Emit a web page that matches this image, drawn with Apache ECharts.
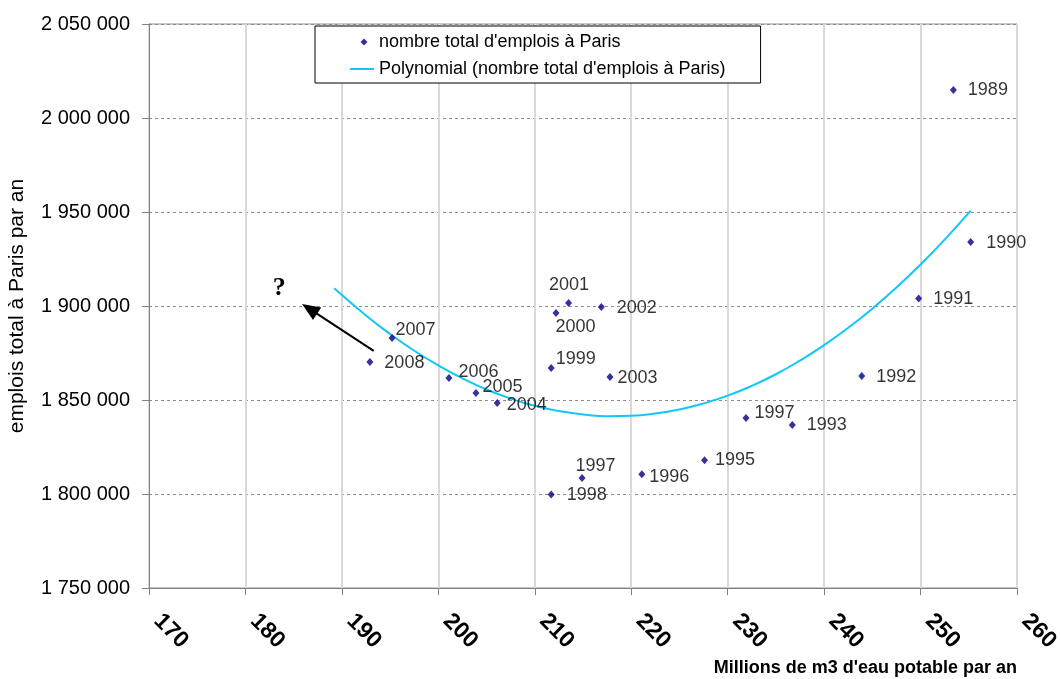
<!DOCTYPE html>
<html>
<head>
<meta charset="utf-8">
<script src="https://cdn.jsdelivr.net/npm/echarts@6/dist/echarts.min.js"></script>
<style>html,body{margin:0;padding:0;background:#fff}#c{width:1061px;height:679px}</style>
</head>
<body>
<div id="c"></div>
<script>
// ---- data ----
const years = ['1989','1990','1991','1992','1993','1997','1995','1996','1997','1998','1999','2000','2001','2002','2003','2004','2005','2006','2007','2008'];
const water = [253.4, 255.2, 249.8, 243.9, 236.7, 231.9, 227.6, 221.1, 214.9, 211.7, 211.7, 212.2, 213.5, 216.9, 217.8, 206.1, 203.9, 201.1, 195.2, 192.9];
const jobs = [2014900, 1934000, 1904000, 1862800, 1836700, 1840400, 1818000, 1810500, 1808500, 1799800, 1867000, 1896300, 1901600, 1899500, 1862200, 1848400, 1853700, 1861700, 1883000, 1870200];
// polynomial trend line
const trendX = [189.2, 192.5, 195, 197.5, 200, 202.5, 205, 207.5, 210, 212.5, 215, 217.5, 220, 222.5, 225, 227.5, 230, 232.5, 235, 237.5, 240, 242.5, 245, 247.5, 250, 252.5, 255.2];
const trendY = [1909500, 1895000, 1885100, 1876200, 1868400, 1861500, 1855600, 1850800, 1846900, 1844100, 1842300, 1841400, 1841600, 1842800, 1845000, 1848200, 1852300, 1857500, 1863700, 1871000, 1879200, 1888400, 1898600, 1909800, 1922100, 1935300, 1950700];
const xTicks = [170, 180, 190, 200, 210, 220, 230, 240, 250, 260];
const yTicks = [1750000, 1800000, 1850000, 1900000, 1950000, 2000000, 2050000];
const arrowFrom = [193.3, 1876100];
const arrowTo = [186.65, 1898500];
const questionAt = [183.5, 1909400];

// label placement (style only): [dx from point centre to text start, dy]
const labelShift = {
  0:[14,0],1:[15,1],2:[14,1],3:[14,1],4:[14,0],5:[8,-5],6:[10,0],7:[7,3],8:[-7,-12],9:[15,1],
  10:[4,-9],11:[-1,14],12:[-20,-18],13:[15,1],14:[7,1],15:[9,2],16:[6,-6],17:[9,-6],18:[3,-8],19:[14,1]
};

const scatterName = "nombre total d'emplois à Paris";
const trendName = "Polynomial (nombre total d'emplois à Paris)";

const points = water.map((x, i) => ({
  value: [x, jobs[i]],
  name: years[i],
  label: { offset: [labelShift[i][0] - 3, labelShift[i][1]] }
}));
const trend = trendX.map((x, i) => [x, trendY[i]]);

function fmt(v) {
  return String(v).replace(/\B(?=(\d{3})+(?!\d))/g, ' ');
}

const chart = echarts.init(document.getElementById('c'), null, { renderer: 'canvas' });
chart.setOption({
  animation: false,
  backgroundColor: '#fff',
  textStyle: { fontFamily: 'Liberation Sans, Arial, sans-serif' },
  grid: { left: 149, right: 44, top: 24, bottom: 91, containLabel: false, outerBoundsMode: 'none', show: true, borderColor: '#8c8c8c', borderWidth: 1, backgroundColor: 'transparent' },
  legend: {
    orient: 'vertical',
    left: 315, top: 26,
    padding: [7, 35, 5, 35],
    itemGap: 9,
    itemWidth: 24, itemHeight: 14,
    borderColor: '#000', borderWidth: 1, backgroundColor: '#fff',
    textStyle: { fontSize: 18, color: '#000', fontFamily: 'Liberation Sans, Arial, sans-serif' },
    data: [
      { name: scatterName, icon: 'path://M0,0M24,14M14,3.5L17.5,7L14,10.5L10.5,7Z' },
      { name: trendName, icon: 'path://M0,0M24,14M0,6L24,6L24,8L0,8Z' }
    ]
  },
  xAxis: {
    type: 'value', min: xTicks[0], max: xTicks[xTicks.length - 1], interval: 10,
    name: "Millions de m3 d'eau potable par an",
    nameLocation: 'end',
    nameGap: 0,
    nameTextStyle: { fontFamily: 'Liberation Sans Narrow, Arial Narrow, Liberation Sans, sans-serif', fontWeight: 'bold', fontSize: 18, color: '#000', align: 'right', verticalAlign: 'top', padding: [71, 0, 0, 0] },
    axisLine: { show: true, lineStyle: { color: '#808080', width: 1 } },
    axisTick: { show: true, inside: false, length: 7, lineStyle: { color: '#808080' } },
    axisLabel: { rotate: -45, margin: 21, padding: [0, 0, 0, 12], fontSize: 23, fontWeight: 'bold', color: '#000', formatter: v => String(v) },
    splitLine: { show: true, lineStyle: { color: '#d9d9d9', width: 2, type: 'solid' } }
  },
  yAxis: {
    type: 'value', min: yTicks[0], max: yTicks[yTicks.length - 1], interval: 50000,
    name: 'emplois total à Paris par an',
    nameLocation: 'middle', nameGap: 121, nameRotate: 90,
    nameTextStyle: { fontSize: 21, color: '#000' },
    axisLine: { show: true, lineStyle: { color: '#808080', width: 1 } },
    axisTick: { show: true, inside: false, length: 7, lineStyle: { color: '#808080' } },
    axisLabel: { margin: 19, fontSize: 20, color: '#000', formatter: v => fmt(v) },
    splitLine: { show: true, lineStyle: { color: '#8c8c8c', width: 1, type: [3, 3] } }
  },
  series: [
    {
      name: scatterName,
      type: 'scatter',
      symbol: 'diamond',
      symbolSize: [7, 8],
      itemStyle: { color: '#000080' },
      z: 4,
      label: {
        show: true, position: 'right', distance: 0,
        formatter: p => p.name,
        fontSize: 18, color: '#000', fontFamily: 'Liberation Sans, Arial, sans-serif'
      },
      data: points,
      markLine: {
        silent: true,
        animation: false,
        symbol: ['none', 'triangle'],
        symbolSize: [15, 18],
        label: { show: false },
        lineStyle: { color: '#000', width: 2, type: 'solid' },
        emphasis: { disabled: true },
        data: [[{ coord: arrowFrom }, { coord: arrowTo }]]
      },
      markPoint: {
        silent: true,
        symbol: 'circle', symbolSize: 1,
        itemStyle: { color: 'transparent' },
        label: { show: true, position: 'inside', formatter: '?', fontFamily: 'Liberation Serif, Times New Roman, serif', fontWeight: 'bold', fontSize: 26, color: '#000' },
        data: [{ coord: questionAt }]
      }
    },
    {
      name: trendName,
      type: 'line',
      smooth: true,
      symbol: 'none',
      z: 3,
      lineStyle: { color: '#10c8f6', width: 2 },
      itemStyle: { color: '#10c8f6' },
      data: trend
    }
  ]
});
</script>
</body>
</html>
